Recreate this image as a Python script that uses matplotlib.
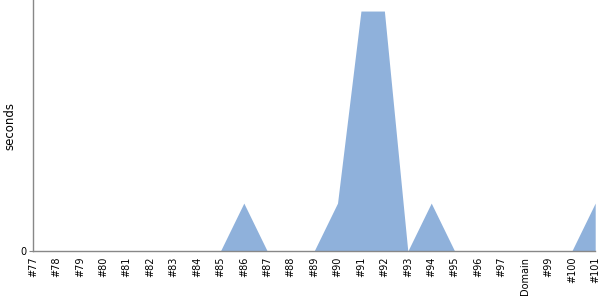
import matplotlib
matplotlib.use("Agg")
import matplotlib.pyplot as plt

labels = ["#77", "#78", "#79", "#80", "#81", "#82", "#83", "#84", "#85", "#86",
          "#87", "#88", "#89", "#90", "#91", "#92", "#93", "#94", "#95", "#96",
          "#97", "Domain", "#99", "#100", "#101"]
values = [0, 0, 0, 0, 0, 0, 0, 0, 0, 1,
          0, 0, 0, 1, 5, 5, 0, 1, 0, 0,
          0, 0, 0, 0, 1]

fig = plt.figure(figsize=(6, 3), dpi=100)
ax = fig.add_axes([0.055, 0.163, 0.937, 0.837])
x = list(range(len(labels)))
ax.fill_between(x, values, 0, color="#8fb1db", linewidth=0)
ax.set_xlim(0, len(labels) - 1)
ax.set_ylim(0, 5.23)
ax.set_yticks([0])
ax.set_yticklabels(["0"], fontsize=7)
ax.set_xticks(x)
ax.set_xticklabels(labels, rotation=90, fontsize=7)
ax.tick_params(axis="x", length=0, pad=4)
ax.tick_params(axis="y", length=3, color="#888888", pad=2)
for s in ["top", "right"]:
    ax.spines[s].set_visible(False)
for s in ["left", "bottom"]:
    ax.spines[s].set_color("#888888")
    ax.spines[s].set_linewidth(1)
ax.set_ylabel("seconds", fontsize=8.5)
ax.yaxis.set_label_coords(-0.029, 0.5)
fig.savefig("out.png", dpi=100)
